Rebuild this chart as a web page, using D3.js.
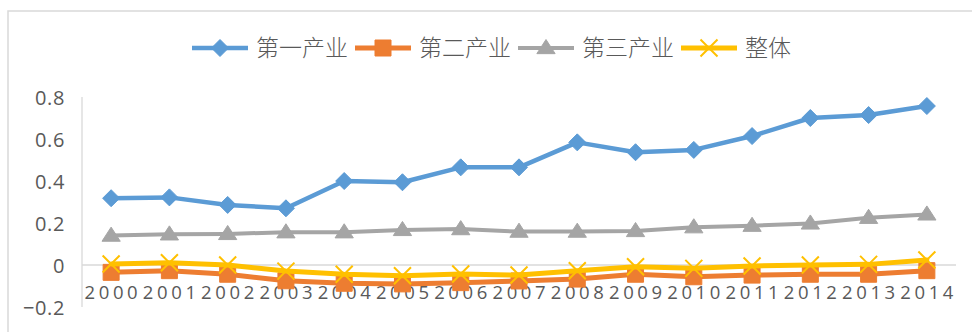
<!DOCTYPE html>
<html>
<head>
<meta charset="utf-8">
<script src="https://cdn.jsdelivr.net/npm/d3@7"></script>
<style>
  html, body { margin: 0; padding: 0; background: #fff; }
  svg { display: block; }
</style>
</head>
<body>
<svg id="chart" width="972" height="332"></svg>
<script>
// Years on the x axis
const years = ["2000","2001","2002","2003","2004","2005","2006","2007","2008","2009","2010","2011","2012","2013","2014"];

// One array per series
const primary   = [0.318, 0.322, 0.286, 0.270, 0.400, 0.394, 0.465, 0.465, 0.584, 0.537, 0.548, 0.614, 0.700, 0.714, 0.757];
const secondary = [-0.035, -0.027, -0.044, -0.075, -0.087, -0.090, -0.084, -0.076, -0.067, -0.044, -0.056, -0.048, -0.044, -0.044, -0.027];
const tertiary  = [0.140, 0.146, 0.148, 0.156, 0.156, 0.167, 0.171, 0.159, 0.159, 0.162, 0.180, 0.187, 0.198, 0.225, 0.241];
const overall   = [0.005, 0.011, 0.000, -0.029, -0.044, -0.051, -0.043, -0.048, -0.027, -0.008, -0.016, -0.005, 0.000, 0.003, 0.024];

const seriesNames = ["第一产业", "第二产业", "第三产业", "整体"];
const yTicks = [-0.2, 0, 0.2, 0.4, 0.6, 0.8];

const series = [
  { name: seriesNames[0], values: primary,   color: "#5b9bd5", marker: "diamond",  width: 4.5 },
  { name: seriesNames[1], values: secondary, color: "#ed7d31", marker: "square",   width: 5 },
  { name: seriesNames[2], values: tertiary,  color: "#a5a5a5", marker: "triangle", width: 4 },
  { name: seriesNames[3], values: overall,   color: "#ffc000", marker: "cross",    width: 5 }
];

const svg = d3.select("#chart");
const textColor = "#595959";
const numFont = "'Open Sans', 'Liberation Sans', sans-serif";
const cjkFont = "'Noto Sans CJK SC', 'Noto Sans', sans-serif";

// Chart frame (open to the right and bottom edge)
svg.append("rect")
  .attr("x", 8).attr("y", 11)
  .attr("width", 1000).attr("height", 400)
  .attr("fill", "none")
  .attr("stroke", "#d9d9d9")
  .attr("stroke-width", 1.5);

const plot = { left: 82, right: 956, top: 97, bottom: 307 };

const x = d3.scaleBand().domain(years).range([plot.left, plot.right]).padding(0);
const y = d3.scaleLinear().domain([-0.2, 0.8]).range([plot.bottom, plot.top]);
const cx = d => x(d) + x.bandwidth() / 2;

// Vertical axis line
svg.append("line")
  .attr("x1", plot.left).attr("x2", plot.left)
  .attr("y1", y(0.8)).attr("y2", y(-0.2))
  .attr("stroke", "#d9d9d9").attr("stroke-width", 1.3);

// Zero line
svg.append("line")
  .attr("x1", plot.left).attr("x2", plot.right)
  .attr("y1", y(0)).attr("y2", y(0))
  .attr("stroke", "#d9d9d9").attr("stroke-width", 1.5);

// Y tick labels
const yAxis = d3.axisLeft(y).tickValues(yTicks).tickSize(0).tickPadding(17)
  .tickFormat(d => d === 0 ? "0" : d3.format(".1f")(d));
const yg = svg.append("g").attr("transform", `translate(${plot.left},0)`).call(yAxis);
yg.select(".domain").remove();
yg.selectAll("text")
  .attr("fill", textColor)
  .style("font-family", numFont)
  .style("font-size", "20px")
  .style("letter-spacing", "0.6px")
  .attr("dy", "0.36em");

// X tick labels, widely spaced digits sitting just below the zero line
const xAxis = d3.axisBottom(x).tickSize(0).tickPadding(0);
const xg = svg.append("g").attr("transform", `translate(0,${y(0)})`).call(xAxis);
xg.select(".domain").remove();
xg.selectAll("text")
  .attr("fill", textColor)
  .style("font-family", numFont)
  .style("font-size", "18.5px")
  .style("letter-spacing", "3.6px")
  .attr("dx", "1.8px")
  .attr("y", 34)
  .attr("dy", 0);

// Marker shapes
function markerPath(type, s) {
  switch (type) {
    case "diamond": return `M0,${-s}L${s},0L0,${s}L${-s},0Z`;
    case "square":  return `M${-s},${-s}H${s}V${s}H${-s}Z`;
    case "triangle": {
      const h = s * 1.7;
      return `M0,${-h * 0.6}L${s * 1.1},${h * 0.4}L${-s * 1.1},${h * 0.4}Z`;
    }
    case "cross":   return `M${-s},${-s}L${s},${s}M${-s},${s}L${s},${-s}`;
  }
}
const markerSize = { diamond: 8.5, square: 8, triangle: 8.3, cross: 8.5 };

function drawMarker(g, type, color) {
  const p = g.append("path").attr("d", markerPath(type, markerSize[type]));
  if (type === "cross") {
    p.attr("fill", "none").attr("stroke", color).attr("stroke-width", 2);
  } else {
    p.attr("fill", color).attr("stroke", color).attr("stroke-width", 1);
  }
  return p;
}

const line = d3.line().x((d, i) => cx(years[i])).y(d => y(d));

series.forEach(s => {
  const g = svg.append("g");
  g.append("path")
    .datum(s.values)
    .attr("d", line)
    .attr("fill", "none")
    .attr("stroke", s.color)
    .attr("stroke-width", s.width)
    .attr("stroke-linejoin", "round")
    .attr("stroke-linecap", "round");
  s.values.forEach((v, i) => {
    const mg = g.append("g").attr("transform", `translate(${cx(years[i])},${y(v)})`);
    drawMarker(mg, s.marker, s.color);
  });
});

// Legend
const legend = svg.append("g");
let lx = 192;
const ly = 48;
series.forEach(s => {
  const item = legend.append("g");
  item.append("line")
    .attr("x1", lx).attr("x2", lx + 56)
    .attr("y1", ly).attr("y2", ly)
    .attr("stroke", s.color).attr("stroke-width", s.width);
  const mg = item.append("g").attr("transform", `translate(${lx + 28},${ly})`);
  drawMarker(mg, s.marker, s.color);
  const t = item.append("text")
    .attr("x", lx + 64).attr("y", ly)
    .attr("dy", "0.36em")
    .attr("fill", textColor)
    .style("font-family", cjkFont)
    .style("font-weight", 300)
    .style("font-size", "23px")
    .text(s.name);
  lx = lx + 64 + t.node().getComputedTextLength() + 7;
});
</script>
</body>
</html>
